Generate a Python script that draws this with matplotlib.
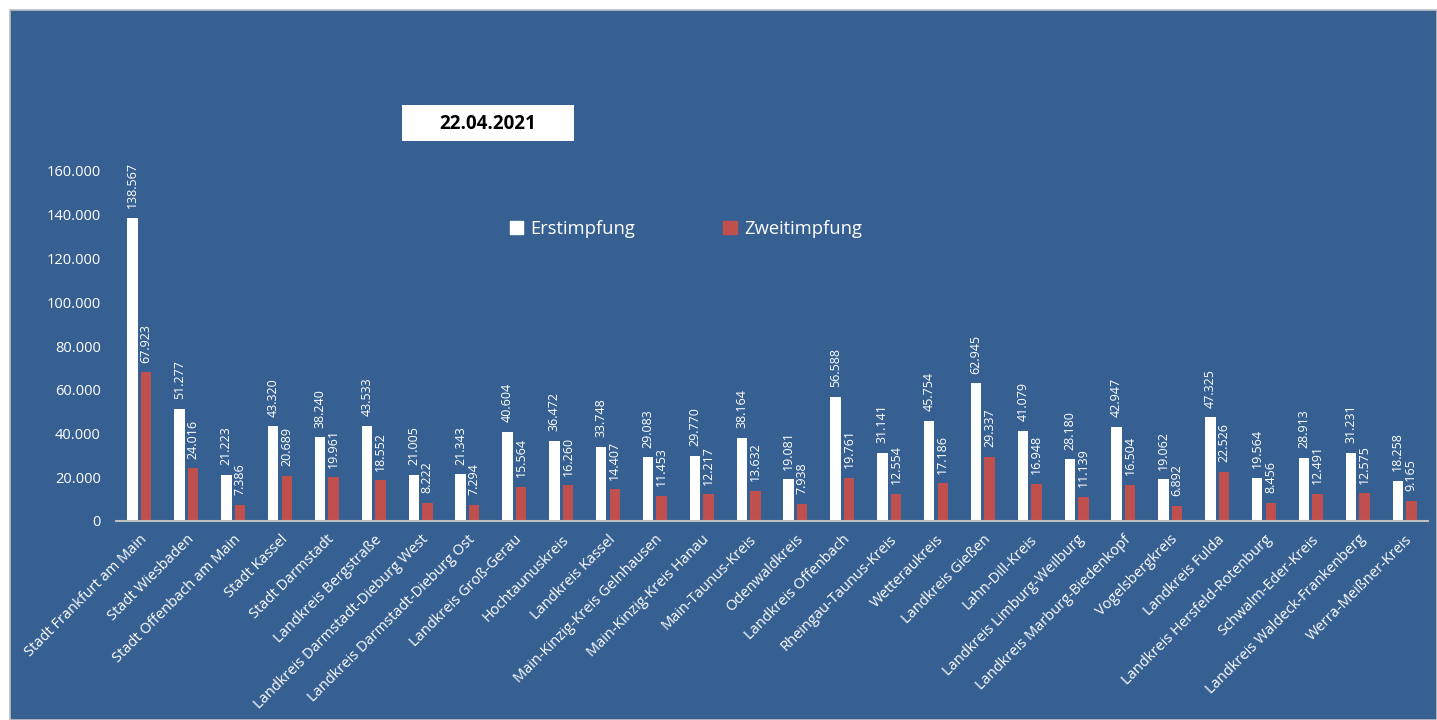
import numpy as np
import matplotlib.pyplot as plt
from matplotlib.patches import Rectangle, Patch
from matplotlib.ticker import FuncFormatter

kreise = ["Stadt Frankfurt am Main", "Stadt Wiesbaden", "Stadt Offenbach am Main",
          "Stadt Kassel", "Stadt Darmstadt", "Landkreis Bergstraße",
          "Landkreis Darmstadt-Dieburg West", "Landkreis Darmstadt-Dieburg Ost",
          "Landkreis Groß-Gerau", "Hochtaunuskreis", "Landkreis Kassel",
          "Main-Kinzig-Kreis Gelnhausen", "Main-Kinzig-Kreis Hanau", "Main-Taunus-Kreis",
          "Odenwaldkreis", "Landkreis Offenbach", "Rheingau-Taunus-Kreis",
          "Wetteraukreis", "Landkreis Gießen", "Lahn-Dill-Kreis",
          "Landkreis Limburg-Weilburg", "Landkreis Marburg-Biedenkopf", "Vogelsbergkreis",
          "Landkreis Fulda", "Landkreis Hersfeld-Rotenburg", "Schwalm-Eder-Kreis",
          "Landkreis Waldeck-Frankenberg", "Werra-Meißner-Kreis"]
erst = [138567, 51277, 21223, 43320, 38240, 43533, 21005, 21343, 40604, 36472,
        33748, 29083, 29770, 38164, 19081, 56588, 31141, 45754, 62945, 41079,
        28180, 42947, 19062, 47325, 19564, 28913, 31231, 18258]
zweit = [67923, 24016, 7386, 20689, 19961, 18552, 8222, 7294, 15564, 16260,
         14407, 11453, 12217, 13632, 7938, 19761, 12554, 17186, 29337, 16948,
         11139, 16504, 6892, 22526, 8456, 12491, 12575, 9165]
datum = "22.04.2021"

blau = "#376092"
rot = "#C0504D"

plt.rcParams['font.family'] = ['Open Sans', 'DejaVu Sans']

def de(v):
    return f"{int(v):,}".replace(",", ".")

W, H = 1437, 720
fig = plt.figure(figsize=(W / 100, H / 100), dpi=100, facecolor="white")
fig.patches.append(Rectangle((10 / W, 0), 1 - 10 / W, 1 - 10 / H, transform=fig.transFigure,
                             facecolor=blau, edgecolor="#BFBFBF", lw=1.2, zorder=-10))

ax = fig.add_axes([116 / W, 1 - 521 / H, (1428 - 116) / W, (521 - 171) / H])
ax.set_facecolor("none")

x = np.arange(len(kreise))
w = 0.22
b1 = ax.bar(x - 0.145, erst, w, color="white", label="Erstimpfung", zorder=2)
b2 = ax.bar(x + 0.145, zweit, w, color=rot, label="Zweitimpfung", zorder=2)

for bars, vals in ((b1, erst), (b2, zweit)):
    for r, v in zip(bars, vals):
        ax.annotate(de(v), (r.get_x() + r.get_width() / 2, v), xytext=(0, 7),
                    textcoords="offset points", rotation=90, ha="center", va="bottom",
                    color="white", fontsize=9, annotation_clip=False)

ax.set_xlim(-0.5, len(kreise) - 0.5)
ax.set_ylim(0, 160000)
ax.set_yticks(np.arange(0, 160001, 20000))
ax.yaxis.set_major_formatter(FuncFormatter(lambda v, p: de(v)))
ax.set_xticks(x)
ax.set_xticklabels(kreise, rotation=45, ha="right", rotation_mode="anchor")
ax.tick_params(axis="both", length=0, colors="white", labelsize=10.5)
ax.tick_params(axis="y", pad=11)
ax.tick_params(axis="x", pad=8)
for s in ("top", "right", "left"):
    ax.spines[s].set_visible(False)
ax.spines["bottom"].set_color("#BFBFBF")
ax.spines["bottom"].set_linewidth(1.5)

leg = fig.legend(handles=[Patch(color="white"), Patch(color=rot)],
                 labels=["Erstimpfung", "Zweitimpfung"], loc="center",
                 bbox_to_anchor=(686 / W, 1 - 229 / H), ncol=2, frameon=False,
                 fontsize=13.2, columnspacing=4.8, handlelength=0.75, handleheight=0.75,
                 handletextpad=0.4)
for t in leg.get_texts():
    t.set_color("white")

fig.patches.append(Rectangle((402 / W, 1 - 141 / H), 172 / W, 36 / H, transform=fig.transFigure,
                             facecolor="white", edgecolor="none", zorder=1))
fig.text(488 / W, 1 - 124 / H, datum, ha="center", va="center", fontsize=13.5,
         fontweight="bold", color="black", zorder=3)

fig.savefig("out.png", dpi=100, facecolor="white")
